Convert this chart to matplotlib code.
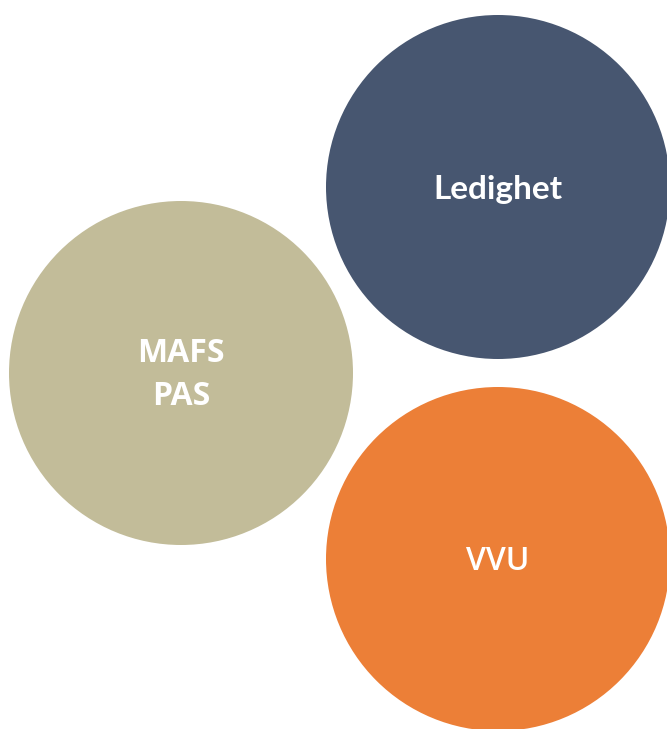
import matplotlib.pyplot as plt
from matplotlib.patches import Circle

# circle labels, centres (pixels) and colours
labels = ["Ledighet", "MAFS\nPAS", "VVU"]
centre_x = [498, 181, 498]
centre_y = [187, 373, 559]
radius = [172, 172, 172]
colors = ["#475670", "#C2BC99", "#EC7F37"]
fonts = ["Lato", "Open Sans", "Open Sans"]
weights = ["bold", "bold", "semibold"]
sizes = [24, 23, 23]

fig = plt.figure(figsize=(6.67, 7.29), dpi=100)
ax = fig.add_axes([0, 0, 1, 1])
ax.set_xlim(0, 667)
ax.set_ylim(729, 0)
ax.set_aspect("equal")
ax.axis("off")

for lab, x, y, r, c, f, w, s in zip(labels, centre_x, centre_y, radius, colors, fonts, weights, sizes):
    ax.add_patch(Circle((x, y), r, facecolor=c, edgecolor="none"))
    ax.text(x, y + 2, lab, color="white", ha="center", va="center", family=[f, "DejaVu Sans"],
            fontweight=w, fontsize=s, linespacing=1.4)

fig.savefig("out.png", dpi=100)
